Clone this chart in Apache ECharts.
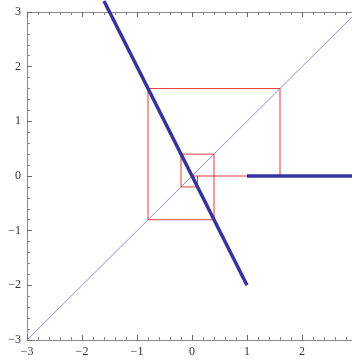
<!DOCTYPE html>
<html>
<head>
<meta charset="utf-8">
<script src="https://cdn.jsdelivr.net/npm/echarts@6/dist/echarts.min.js"></script>
<style>html,body{margin:0;padding:0;background:#fff}#c{width:352px;height:360px}</style>
</head>
<body>
<div id="c"></div>
<script>
var xTicks = [-3, -2, -1, 0, 1, 2, 3];
var yTicks = [-3, -2, -1, 0, 1, 2, 3];
var diagX = [-3, 3];
var diagY = [-3, 3];
var mapLeftX = [-1.6, 1];
var mapLeftY = [3.2, -2];
var mapRightX = [1, 3];
var mapRightY = [0, 0];
var cobX = [0.1, 0.1, -0.2, -0.2, 0.4, 0.4, -0.8, -0.8, 1.6, 1.6, 0];
var cobY = [0, -0.2, -0.2, 0.4, 0.4, -0.8, -0.8, 1.6, 1.6, 0, 0];

function zip(a, b) { return a.map(function (v, i) { return [v, b[i]]; }); }

var axisCol = '#8a8a8a';
var labelStyle = { color: '#333', fontFamily: 'Liberation Serif', fontSize: 12 };
function fmt(v) { return v < 0 ? '\u2212' + Math.abs(v) : String(v); }

function mkAxis(pos, showLabel, ticks) {
  return {
    type: 'value', position: pos, min: ticks[0], max: ticks[ticks.length - 1], interval: 1,
    axisLine: { show: true, onZero: false, lineStyle: { color: axisCol, width: 1 } },
    axisTick: { show: true, inside: true, length: 5, lineStyle: { color: '#666', width: 1 } },
    minorTick: { show: true, splitNumber: 5, length: 3, lineStyle: { color: '#888', width: 1 } },
    splitLine: { show: false },
    axisLabel: Object.assign({ show: showLabel, formatter: fmt, margin: 6, showMinLabel: true, showMaxLabel: true, hideOverlap: false }, labelStyle)
  };
}

var chart = echarts.init(document.getElementById('c'), null, { renderer: 'canvas' });
chart.setOption({
  animation: false,
  backgroundColor: '#fff',
  grid: { left: 27, right: -5, top: 12, bottom: 20, containLabel: false, outerBoundsMode: 'none' },
  xAxis: [mkAxis('bottom', true, xTicks), mkAxis('top', false, xTicks)],
  yAxis: [mkAxis('left', true, yTicks), mkAxis('right', false, yTicks)],
  series: [
    { type: 'line', data: zip(diagX, diagY), symbol: 'none', lineStyle: { color: '#8c8cd2', width: 1 }, z: 2 },
    { type: 'line', data: zip(cobX, cobY), symbol: 'none', lineStyle: { color: '#e03c3c', width: 1 }, z: 3 },
    { type: 'line', data: zip(mapLeftX, mapLeftY), symbol: 'none', clip: false, lineStyle: { color: '#34349a', width: 3.5 }, z: 4 },
    { type: 'line', data: zip(mapRightX, mapRightY), symbol: 'none', clip: false, lineStyle: { color: '#34349a', width: 3.5 }, z: 4 }
  ]
});
</script>
</body>
</html>
